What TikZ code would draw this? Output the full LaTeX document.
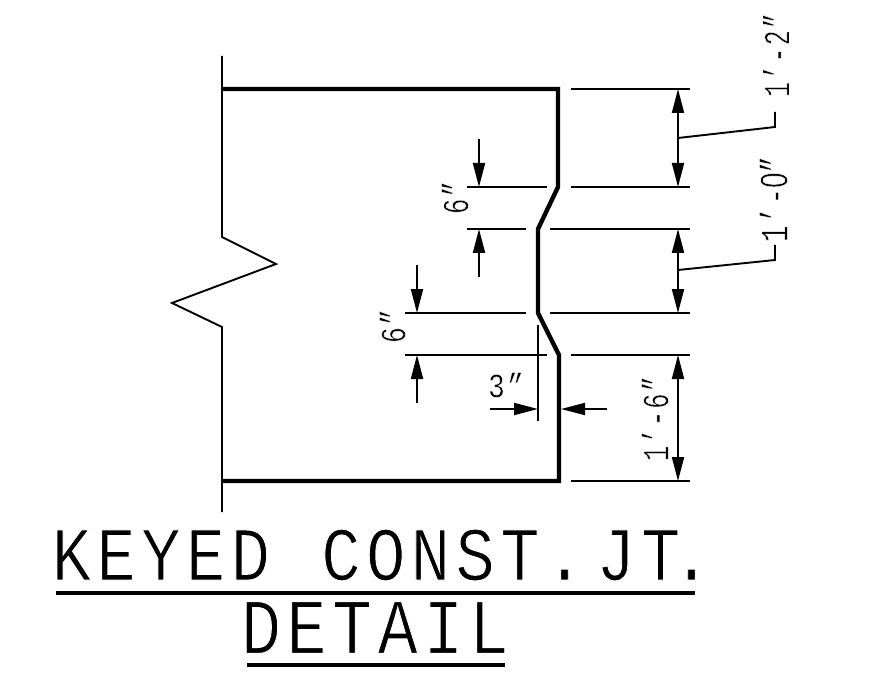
\documentclass[tikz,border=0pt]{standalone}
\usepackage{fontspec}
\usepackage{graphicx}
\setmainfont{Liberation Mono}
\newfontfamily\spaced[LetterSpace=8.2]{Liberation Mono}
\newfontfamily\zerof{Liberation Sans}
\usetikzlibrary{arrows.meta}
\tikzset{
  thinl/.style={line width=1.9pt,black},
  thickl/.style={line width=4.4pt,black,line join=miter},
  rulel/.style={line width=4pt,black},
  dim/.style={thinl,{Triangle[length=24pt,width=12pt]}-{Triangle[length=24pt,width=12pt]}},
  tipend/.style={thinl,-{Triangle[length=24pt,width=12pt]}},
  lab/.style={inner sep=0pt,outer sep=0pt,anchor=center}
}
% #7: white outline width in font units, thinning the strokes of the glyphs
\newcommand{\lbl}[7]{\node[lab,rotate=#5] (#1) at (#2) {\resizebox{#3pt}{#4pt}{\special{pdf:code q 2 Tr 1 1 1 RG #7 w}\spaced #6\special{pdf:code Q}}};}
\begin{document}
\begin{tikzpicture}[x=1pt,y=-1pt]
\useasboundingbox (0,0) rectangle (883,676);
% wall break line
\draw[thinl,line join=miter] (222,56) -- (222,237) -- (276,264) -- (172,303) -- (222,327) -- (222,512);
% joint outline
\draw[thickl] (222,89) -- (558,89) -- (558,187) -- (538,229) -- (538,313) -- (559,355) -- (559,481) -- (222,481);
% right extension lines
\foreach \y/\xa in {89/571,187/571,229/550,313/550,355/571,481/571}
  \draw[thinl] (\xa,\y) -- (690,\y);
% left extension lines
\draw[thinl] (467,187) -- (547,187);
\draw[thinl] (467,229) -- (526,229);
\draw[thinl] (405,313) -- (526,313);
\draw[thinl] (405,355) -- (547,355);
\draw[thinl] (538,325) -- (538,421);
% right dimensions
\draw[dim] (678,89) -- (678,187);
\draw[dim] (678,229) -- (678,313);
\draw[dim] (678,355) -- (678,481);
% outside arrows
\draw[tipend] (479,139) -- (479,187);
\draw[tipend] (479,277) -- (479,229);
\draw[tipend] (417,265) -- (417,313);
\draw[tipend] (417,403) -- (417,355);
\draw[tipend] (490,409) -- (538,409);
\draw[tipend] (607,409) -- (561,409);
% leaders
\draw[thinl,line join=miter] (678,138) -- (775,127) -- (775,112);
\draw[thinl,line join=miter] (678,270) -- (775,260) -- (775,245);
% dimension text
\lbl{a}{776,55}{84}{27}{90}{1’-2”}{0.15}
\lbl{b}{773.5,199}{86}{28}{90}{1’-{\zerof 0}”}{0.15}
\lbl{c}{655,418.5}{85}{27}{90}{1’-6”}{0.15}
\lbl{d}{455,197.5}{33}{27}{90}{6”}{0.15}
\lbl{e}{392.5,326}{34}{26}{90}{6”}{0.15}
\lbl{f}{506,385}{36}{25}{0}{3”}{0.15}
% title
\lbl{t}{381.5,555}{659}{51}{0}{KEYED\kern1.0pt{} CONST. \hspace{-0.5em}JT\kern-1.3pt.}{0.13}
\lbl{u}{375,627.5}{268}{52}{0}{DETAIL}{0.13}
\draw[rulel] (56,593) -- (695,593);
\draw[rulel] (247,665) -- (505,665);
\end{tikzpicture}
\end{document}
